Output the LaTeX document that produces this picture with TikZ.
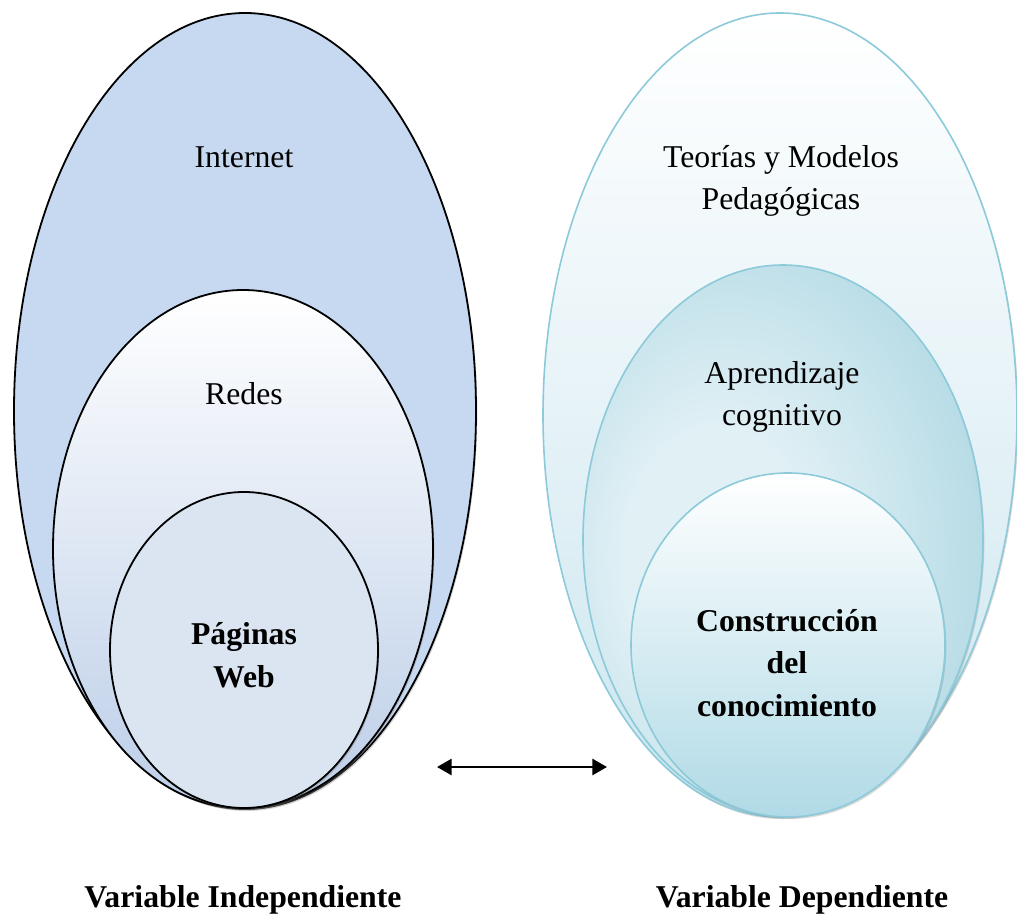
\documentclass[tikz,border=0pt]{standalone}
\usepackage{fontspec}
\setmainfont{Liberation Serif}
\usetikzlibrary{shapes.geometric,arrows.meta,shadows}
\definecolor{outerblue}{RGB}{198,217,241}
\definecolor{redesblue}{RGB}{188,206,232}
\definecolor{webblue}{RGB}{219,229,241}
\definecolor{tealline}{RGB}{140,202,218}
\definecolor{teoriasteal}{RGB}{204,230,239}
\definecolor{aprinner}{RGB}{224,240,245}
\definecolor{aprouter}{RGB}{168,212,224}
\definecolor{aprrim}{RGB}{150,202,217}
\definecolor{constteal}{RGB}{176,218,230}
\pgfdeclareradialshading{aprshade}{\pgfpoint{-10bp}{-2bp}}{%
  color(0bp)=(aprinner); color(12bp)=(aprinner);
  color(38bp)=(aprouter); color(50bp)=(aprrim); color(70bp)=(aprrim)}
\tikzset{>=Triangle}
\tikzset{
  setblue/.style={ellipse, draw=black, line width=1.35pt, inner sep=0pt,
    drop shadow={shadow xshift=1pt, shadow yshift=-1.5pt, opacity=.35}},
  setteal/.style={ellipse, draw=tealline, line width=1.2pt, inner sep=0pt,
    drop shadow={shadow xshift=1pt, shadow yshift=-1.5pt, opacity=.3}},
  settext/.style={font=\fontsize{23.8}{32}\selectfont, align=center, inner sep=0pt},
  setcaption/.style={font=\fontsize{23.8}{32}\selectfont\bfseries, inner sep=0pt}
}

\begin{document}
\begin{tikzpicture}[x=0.75pt,y=-0.75pt]
    \useasboundingbox (0,0) rectangle (1017,919);
    % variable independiente
    \node[setblue, fill=outerblue, minimum width=346.5pt, minimum height=597pt] (internet) at (245,411) {};
    \node[setblue, top color=white, bottom color=redesblue, minimum width=285pt, minimum height=388.5pt] (redes) at (243,549) {};
    \node[setblue, fill=webblue, minimum width=201pt, minimum height=237pt] (paginas) at (244,650) {};
    \node[settext] (tinternet) at (244,157) {Internet};
    \node[settext] (tredes) at (244,394) {Redes};
    \node[settext, font=\fontsize{23.8}{32}\selectfont\bfseries] (tpaginas) at (244,655) {Páginas\\Web};
    % variable dependiente
    \node[setteal, top color=white, bottom color=teoriasteal, minimum width=355.5pt, minimum height=603pt] (teorias) at (780,415) {};
    \node[setteal, shading=aprshade, minimum width=300pt, minimum height=412.5pt] (aprendizaje) at (783,540) {};
    \node[setteal, top color=white, bottom color=constteal, minimum width=235.5pt, minimum height=258pt] (construccion) at (788,645) {};
    \node[settext] (tteorias) at (781,181) {Teorías y Modelos\\Pedagógicas};
    \node[settext] (taprendizaje) at (782,397) {Aprendizaje\\cognitivo};
    \node[settext, font=\fontsize{23.8}{32}\selectfont\bfseries] (tconstruccion) at (787,663) {Construcción\\del\\conocimiento};
    % relacion
    \coordinate (arrowL) at (437,767);
    \coordinate (arrowR) at (607,767);
    \draw[{Triangle[length=11pt,width=12pt]}-{Triangle[length=11pt,width=12pt]}, line width=2.1pt] (arrowL) -- (arrowR);
    \node[setcaption] (vind) at (243,900) {Variable Independiente};
    \node[setcaption] (vdep) at (802,900) {Variable Dependiente};
\end{tikzpicture}
\end{document}
